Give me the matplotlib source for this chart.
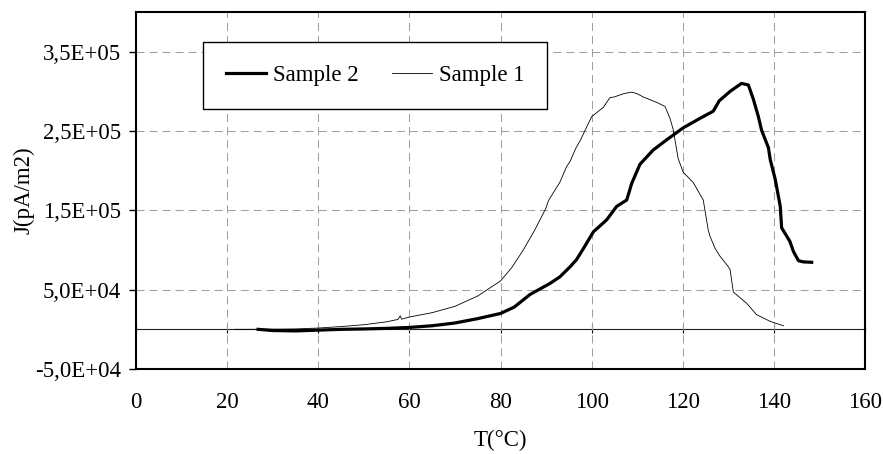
import matplotlib
matplotlib.use("Agg")
import matplotlib.pyplot as plt
from matplotlib.ticker import FixedLocator, FuncFormatter

plt.rcParams['font.family'] = ['Liberation Serif', 'DejaVu Serif']

# Sample 1 (thin line)
t1 = [21.7, 25, 30, 35, 40, 45, 50, 55, 57.5, 58, 58.3, 60, 65, 70, 75, 80, 82.5, 85,
      87.5, 90, 90.5, 92, 93, 94.5, 95.3, 96.5, 97.5, 100, 102.6, 104, 105, 107, 108.8,
      110, 111.3, 114.3, 116.1, 117.2, 117.9, 119, 120.1, 122.3, 123.8, 124.5, 125.6,
      126, 127.1, 128.2, 130, 130.4, 131.1, 134, 136.2, 139.2, 142.1]
j1 = [0, 0, 200, 500, 1600, 3500, 5800, 9500, 12500, 17000, 12800, 15500, 21000, 29000,
      42000, 61000, 78000, 100000, 125000, 153000, 162000, 176000, 185000, 205000, 212000,
      228000, 238000, 268000, 280000, 292000, 293000, 297000, 299000, 297000, 293000,
      286000, 281000, 266000, 252000, 215000, 198000, 185000, 170000, 163000, 125000,
      117000, 102000, 92000, 79000, 75000, 47000, 33000, 18500, 10000, 4500]

# Sample 2 (thick line)
t2 = [26.8, 30, 35, 40, 45, 50, 55, 60, 65, 70, 75, 80, 83, 86.5, 90.9, 93, 95.3, 96.7,
      98, 100.4, 103.3, 105.5, 107.7, 108.8, 110.6, 113.5, 116.5, 120.1, 123.8, 126.7,
      128, 130.4, 132.9, 134.4, 135.5, 136.6, 137.3, 138.8, 139.2, 140.3, 141.4, 141.7,
      143.5, 144.3, 145.4, 146.5, 148.3]
j2 = [0, -1500, -2000, -1000, 0, 500, 1200, 2400, 4500, 8000, 13500, 20000, 28000, 44000,
      58000, 66000, 79000, 88000, 100000, 123000, 138000, 155000, 163000, 184000, 208000,
      226000, 239000, 254000, 266000, 275000, 288000, 300000, 310000, 308000, 290000,
      268000, 251000, 229000, 214000, 189000, 155000, 128000, 111000, 98000, 86500,
      85000, 84500]

x_ticks = [0, 20, 40, 60, 80, 100, 120, 140, 160]
y_ticks = [-5e4, 5e4, 1.5e5, 2.5e5, 3.5e5]
labels = ["Sample 2", "Sample 1"]

FS = 16.5

fig = plt.figure(figsize=(8.83, 4.54), dpi=100)
ax = fig.add_axes([136/883, 1-369/454, 729/883, 357/454])

ax.set_xlim(0, 160)
ax.set_ylim(-5e4, 4e5)

ax.xaxis.set_major_locator(FixedLocator(x_ticks))
ax.yaxis.set_major_locator(FixedLocator(y_ticks))
ax.yaxis.set_major_formatter(FuncFormatter(lambda v, p: f"{v:.1E}".replace('.', ',')))

ax.grid(True, color='#a0a0a0', lw=0.75, dashes=(7.7, 4.8))
ax.set_axisbelow(True)

l2, = ax.plot(t2, j2, color='black', lw=2.3, label=labels[0], solid_joinstyle='round')
l1, = ax.plot(t1, j1, color='black', lw=0.6, label=labels[1])

for s in ax.spines.values():
    s.set_linewidth(1.5)
    s.set_color('black')

ax.tick_params(axis='y', direction='out', length=5, width=1, pad=6, labelsize=FS)
ax.tick_params(axis='x', length=0, pad=16.5, labelsize=FS)

# zero-line axis with crossing ticks
sec = ax.secondary_xaxis(1/9)
sec.xaxis.set_major_locator(FixedLocator(x_ticks))
sec.tick_params(axis='x', direction='inout', length=6, width=0.8, labelbottom=False,
                labeltop=False, bottom=True, top=False)
sec.spines['bottom'].set_linewidth(0.8)
sec.spines['bottom'].set_color('#202020')

ax.set_xlabel("T(°C)", fontsize=FS, labelpad=12.5)
ax.set_ylabel("J(pA/m2)", fontsize=FS, labelpad=0.5)

leg = ax.legend(handles=[l2, l1], loc='upper left', bbox_to_anchor=(0.092, 0.916),
                ncol=2, fontsize=FS, frameon=True, fancybox=False, shadow=False,
                borderaxespad=0, borderpad=1.0, handlelength=1.75, handletextpad=0.3,
                columnspacing=1.45)
leg.get_frame().set_edgecolor('black')
leg.get_frame().set_linewidth(1.0)
leg.get_frame().set_alpha(1)

fig.savefig("out.png", dpi=100)
